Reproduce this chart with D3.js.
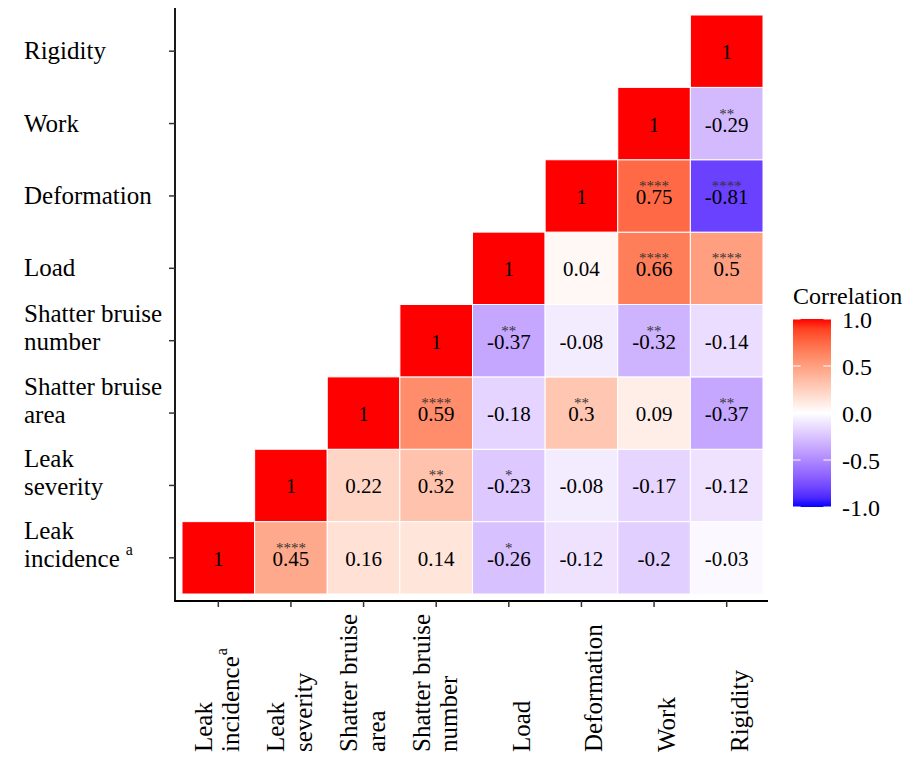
<!DOCTYPE html>
<html>
<head>
<meta charset="utf-8">
<script src="https://cdn.jsdelivr.net/npm/d3@7"></script>
<style>
  html, body { margin: 0; padding: 0; background: #fff; }
  svg { display: block; font-family: "Liberation Serif", "Times New Roman", serif; }
</style>
</head>
<body>
<svg id="chart" width="918" height="757"></svg>
<script>
// Variables in display order (bottom-to-top on y, left-to-right on x)
const variables = ["Leak incidence", "Leak severity", "Shatter bruise area", "Shatter bruise number",
                   "Load", "Deformation", "Work", "Rigidity"];

// Label lines for each variable; a trailing superscript is given separately
const labelLines = [["Leak", "incidence"], ["Leak", "severity"], ["Shatter bruise", "area"],
                    ["Shatter bruise", "number"], ["Load"], ["Deformation"], ["Work"], ["Rigidity"]];
const labelSuperscript = ["a", "", "", "", "", "", "", ""];

// Correlation coefficients: row i holds r(variable i, variable j) for j = i..7
const corrRows = [
  [1, 0.45, 0.16, 0.14, -0.26, -0.12, -0.2, -0.03],
  [1, 0.22, 0.32, -0.23, -0.08, -0.17, -0.12],
  [1, 0.59, -0.18, 0.3, 0.09, -0.37],
  [1, -0.37, -0.08, -0.32, -0.14],
  [1, 0.04, 0.66, 0.5],
  [1, 0.75, -0.81],
  [1, -0.29],
  [1]
];

// Significance markers, same layout as corrRows
const starRows = [
  ["", "****", "", "", "*", "", "", ""],
  ["", "", "**", "*", "", "", ""],
  ["", "****", "", "**", "", "**"],
  ["", "**", "", "**", ""],
  ["", "", "****", "****"],
  ["", "****", "****"],
  ["", "**"],
  [""]
];

const legendTicks = [-1, -0.5, 0, 0.5, 1];

const svg = d3.select("#chart");
const FONT_LABEL = 25, FONT_CELL = 21, FONT_STAR = 15, FONT_LEGEND = 24;

const panel = { left: 175, right: 768, top: 8, bottom: 601 };

const x = d3.scaleBand().domain(variables).range([182, 763]);
const y = d3.scaleBand().domain(variables).range([594, 15]);

const color = d3.scaleLinear().domain([-1, 0, 1])
  .range(["blue", "white", "red"]).interpolate(d3.interpolateLab);

const fmt = v => String(v).replace("\u2212", "-");

// Flatten the triangle into cells
const cells = [];
corrRows.forEach((row, i) => {
  row.forEach((v, k) => {
    const j = i + k;
    cells.push({ row: variables[i], col: variables[j], value: v, stars: starRows[i][k] });
  });
});

// Tiles
const cellG = svg.append("g");
cellG.selectAll("rect").data(cells).join("rect")
  .attr("x", d => x(d.col))
  .attr("y", d => y(d.row))
  .attr("width", x.bandwidth())
  .attr("height", y.bandwidth())
  .attr("fill", d => color(d.value))
  .attr("stroke", "#fff")
  .attr("stroke-width", 1);

// Values
cellG.selectAll("text.val").data(cells).join("text")
  .attr("class", "val")
  .attr("x", d => x(d.col) + x.bandwidth() / 2)
  .attr("y", d => y(d.row) + y.bandwidth() / 2 + 8)
  .attr("text-anchor", "middle")
  .attr("font-size", FONT_CELL)
  .attr("fill", "#000")
  .text(d => fmt(d.value));

// Significance stars
cellG.selectAll("text.star").data(cells.filter(d => d.stars)).join("text")
  .attr("class", "star")
  .attr("x", d => x(d.col) + x.bandwidth() / 2)
  .attr("y", d => y(d.row) + y.bandwidth() / 2 - 5)
  .attr("text-anchor", "middle")
  .attr("font-size", FONT_STAR)
  .attr("fill", "#333")
  .text(d => d.stars);

// Axis lines
svg.append("line")
  .attr("x1", panel.left).attr("x2", panel.left)
  .attr("y1", panel.top).attr("y2", panel.bottom)
  .attr("stroke", "#000").attr("stroke-width", 1.8);
svg.append("line")
  .attr("x1", panel.left - 0.9).attr("x2", panel.right)
  .attr("y1", panel.bottom).attr("y2", panel.bottom)
  .attr("stroke", "#000").attr("stroke-width", 1.8);

// Y axis ticks
const yAxisG = svg.append("g")
  .attr("transform", `translate(${panel.left},0)`)
  .call(d3.axisLeft(y).tickSize(6).tickFormat(""));
yAxisG.select(".domain").remove();
yAxisG.selectAll(".tick line").attr("stroke", "#333").attr("stroke-width", 1.5);

// X axis ticks
const xAxisG = svg.append("g")
  .attr("transform", `translate(0,${panel.bottom})`)
  .call(d3.axisBottom(x).tickSize(6).tickFormat(""));
xAxisG.select(".domain").remove();
xAxisG.selectAll(".tick line").attr("stroke", "#333").attr("stroke-width", 1.5);

const LINE_H_Y = 28, LINE_H_X = 27.5;

// Y axis labels (left aligned, block centred on the tick)
variables.forEach((v, i) => {
  const lines = labelLines[i];
  const cy = y(v) + y.bandwidth() / 2;
  const firstBaseline = lines.length === 1 ? cy + 8 : cy + 9.5 - (lines.length - 1) * LINE_H_Y;
  const t = svg.append("text")
    .attr("font-size", FONT_LABEL)
    .attr("fill", "#000");
  lines.forEach((ln, k) => {
    t.append("tspan").attr("x", 24).attr("y", firstBaseline + k * LINE_H_Y).text(ln);
  });
  if (labelSuperscript[i]) {
    t.append("tspan").attr("font-size", 16).attr("dx", 6).attr("dy", -12).text(labelSuperscript[i]);
  }
});

// X axis labels (rotated, reading upwards, last line just right of the tick)
variables.forEach((v, i) => {
  const lines = labelLines[i];
  const cx = x(v) + x.bandwidth() / 2;
  const t = svg.append("text")
    .attr("transform", `translate(${cx + 21},752) rotate(-90)`)
    .attr("font-size", FONT_LABEL)
    .attr("fill", "#000");
  lines.forEach((ln, k) => {
    t.append("tspan").attr("x", 0).attr("y", -(lines.length - 1 - k) * LINE_H_X).text(ln);
  });
  if (labelSuperscript[i]) {
    t.append("tspan").attr("font-size", 16).attr("dx", 1).attr("dy", -12).text(labelSuperscript[i]);
  }
});

// Legend
const lg = { x: 793, w: 38 };
const ly = d3.scaleLinear().domain([-1, 1]).range([507, 319]);

svg.append("text")
  .attr("x", 793).attr("y", 304)
  .attr("font-size", FONT_LEGEND)
  .text("Correlation");

const grad = svg.append("defs").append("linearGradient")
  .attr("id", "corrGrad").attr("x1", 0).attr("y1", 1).attr("x2", 0).attr("y2", 0);
d3.range(0, 1.0001, 0.05).forEach(t => {
  grad.append("stop").attr("offset", t).attr("stop-color", color(-1 + 2 * t));
});

svg.append("rect")
  .attr("x", lg.x).attr("y", ly(1))
  .attr("width", lg.w).attr("height", ly(-1) - ly(1))
  .attr("fill", "url(#corrGrad)");

const tickLen = lg.w / 5;
svg.append("g").selectAll("line.l").data(legendTicks).join("line")
  .attr("x1", lg.x).attr("x2", lg.x + tickLen)
  .attr("y1", d => ly(d)).attr("y2", d => ly(d))
  .attr("stroke", "#fff").attr("stroke-width", 1);
svg.append("g").selectAll("line.r").data(legendTicks).join("line")
  .attr("x1", lg.x + lg.w - tickLen).attr("x2", lg.x + lg.w)
  .attr("y1", d => ly(d)).attr("y2", d => ly(d))
  .attr("stroke", "#fff").attr("stroke-width", 1);

svg.append("g").selectAll("text").data(legendTicks).join("text")
  .attr("x", 842)
  .attr("y", d => ly(d) + 8.5)
  .attr("font-size", FONT_LEGEND)
  .text(d => d3.format(".1f")(d).replace("\u2212", "-"));
</script>
</body>
</html>
